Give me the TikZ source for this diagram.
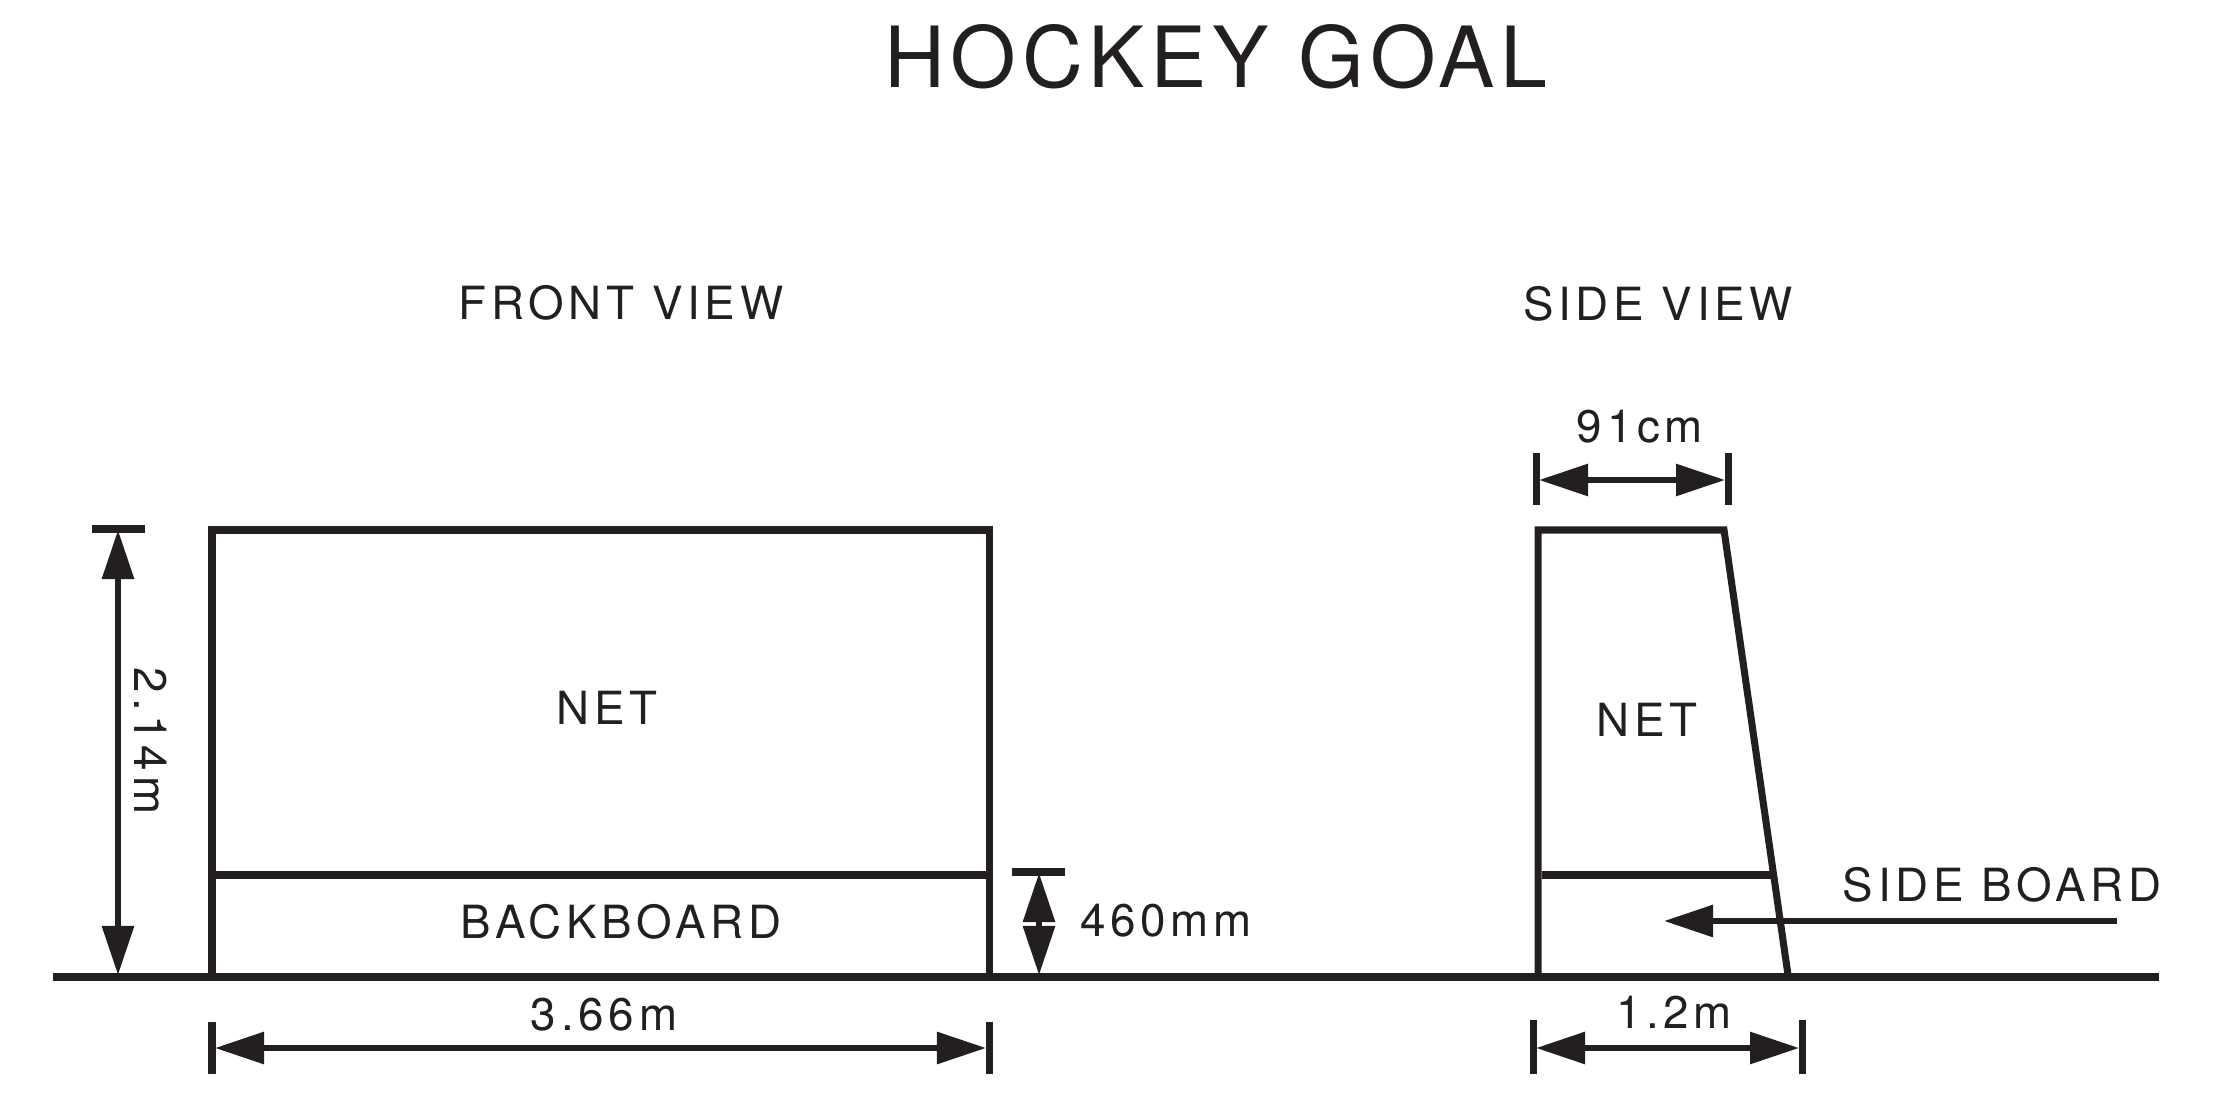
\documentclass[tikz,border=0pt]{standalone}
\usepackage{fontspec}
\setmainfont{TeX Gyre Heros}
\newfontfamily\labelfont[LetterSpace=10.5]{TeX Gyre Heros}
\newfontfamily\titlefont[LetterSpace=7]{TeX Gyre Heros}
\usetikzlibrary{arrows.meta}
\definecolor{inkgrey}{HTML}{231F20}
\tikzset{
  outline/.style={draw=inkgrey,line width=2pt,line join=miter},
  dimline/.style={draw=inkgrey,line width=1.7pt,{Triangle[length=0.49cm,width=0.31cm]}-{Triangle[length=0.49cm,width=0.31cm]}},
  pointer/.style={draw=inkgrey,line width=1.7pt,-{Triangle[length=0.49cm,width=0.31cm]}},
  dimbar/.style={draw=inkgrey,line width=2pt},
  lbl/.style={inner sep=0pt,text=inkgrey,font=\fontsize{13}{13}\selectfont\labelfont},
  bigtitle/.style={inner sep=0pt,text=inkgrey,font=\fontsize{24}{24}\selectfont\titlefont}
}
\begin{document}
\begin{tikzpicture}[x=0.01cm,y=-0.01cm]

      \useasboundingbox (0,0) rectangle (2213,1101);

      \node[bigtitle] (title) at (1216,57){HOCKEY GOAL};
      \node[lbl] (frontview) at (621,303){FRONT VIEW};
      \node[lbl] (sideview) at (1658,304){SIDE VIEW};
      \node[lbl] (frontnet) at (607,708){NET};
      \node[lbl] (backboard) at (621,922){BACKBOARD};
      \node[lbl] (sidenet) at (1647,720){NET};
      \node[lbl] (sideboard) at (2002,885){SIDE BOARD};
      \node[lbl] (width) at (604,1015){3.66m};
      \node[lbl] (height) at (151,741)[rotate=-90]{2.14m};
      \node[lbl] (boardheight) at (1166,921){460mm};
      \node[lbl] (topdepth) at (1640,427){91cm};
      \node[lbl] (basedepth) at (1674,1012){1.2m};

      \coordinate (gl) at (53,977);
      \coordinate (gr) at (2159,977);

      \coordinate (fa) at (212,977);
      \coordinate (fb) at (212,530);
      \coordinate (fc) at (989,530);
      \coordinate (fd) at (989,977);
      \coordinate (fe) at (212,875);
      \coordinate (ff) at (989,875);

      \coordinate (sa) at (1538,977);
      \coordinate (sb) at (1538,530);
      \coordinate (sc) at (1724,530);
      \coordinate (sd) at (1788,975);
      \coordinate (se) at (1542,875);
      \coordinate (sf) at (1773,875);

      \coordinate (ha) at (92,529);
      \coordinate (hb) at (145,529);
      \coordinate (hc) at (118,530);
      \coordinate (hd) at (118,975);

      \coordinate (ba) at (1012,872);
      \coordinate (bb) at (1065,872);
      \coordinate (bc) at (1039,873);
      \coordinate (bd) at (1039,975);

      \coordinate (wa) at (212,1022);
      \coordinate (wb) at (212,1074);
      \coordinate (wc) at (989,1022);
      \coordinate (wd) at (989,1074);
      \coordinate (we) at (215,1048);
      \coordinate (wf) at (986,1048);

      \coordinate (ta) at (1536,453);
      \coordinate (tb) at (1536,505);
      \coordinate (tc) at (1728,453);
      \coordinate (td) at (1728,505);
      \coordinate (te) at (1539,480);
      \coordinate (tf) at (1725,480);

      \coordinate (da) at (1533,1020);
      \coordinate (db) at (1533,1074);
      \coordinate (dc) at (1802,1020);
      \coordinate (dd) at (1802,1074);
      \coordinate (de) at (1536,1048);
      \coordinate (df) at (1799,1048);

      \coordinate (pa) at (2117,921);
      \coordinate (pb) at (1664,921);

      \draw[outline] (fa) -- (fb) -- (fc) -- (fd);
      \draw[outline] (fe) -- (ff);
      \draw[outline] (sa) -- (sb) -- (sc) -- (sd);
      \draw[outline] (se) -- (sf);
      \draw[outline] (gl) -- (gr);

      \draw[dimbar] (ha) -- (hb);
      \draw[dimline] (hc) -- (hd);
      \draw[dimbar] (ba) -- (bb);
      \draw[dimline] (bc) -- (bd);
      \draw[dimbar] (wa) -- (wb);
      \draw[dimbar] (wc) -- (wd);
      \draw[dimline] (we) -- (wf);
      \draw[dimbar] (ta) -- (tb);
      \draw[dimbar] (tc) -- (td);
      \draw[dimline] (te) -- (tf);
      \draw[dimbar] (da) -- (db);
      \draw[dimbar] (dc) -- (dd);
      \draw[dimline] (de) -- (df);
      \draw[pointer] (pa) -- (pb);
    \end{tikzpicture}
\end{document}
